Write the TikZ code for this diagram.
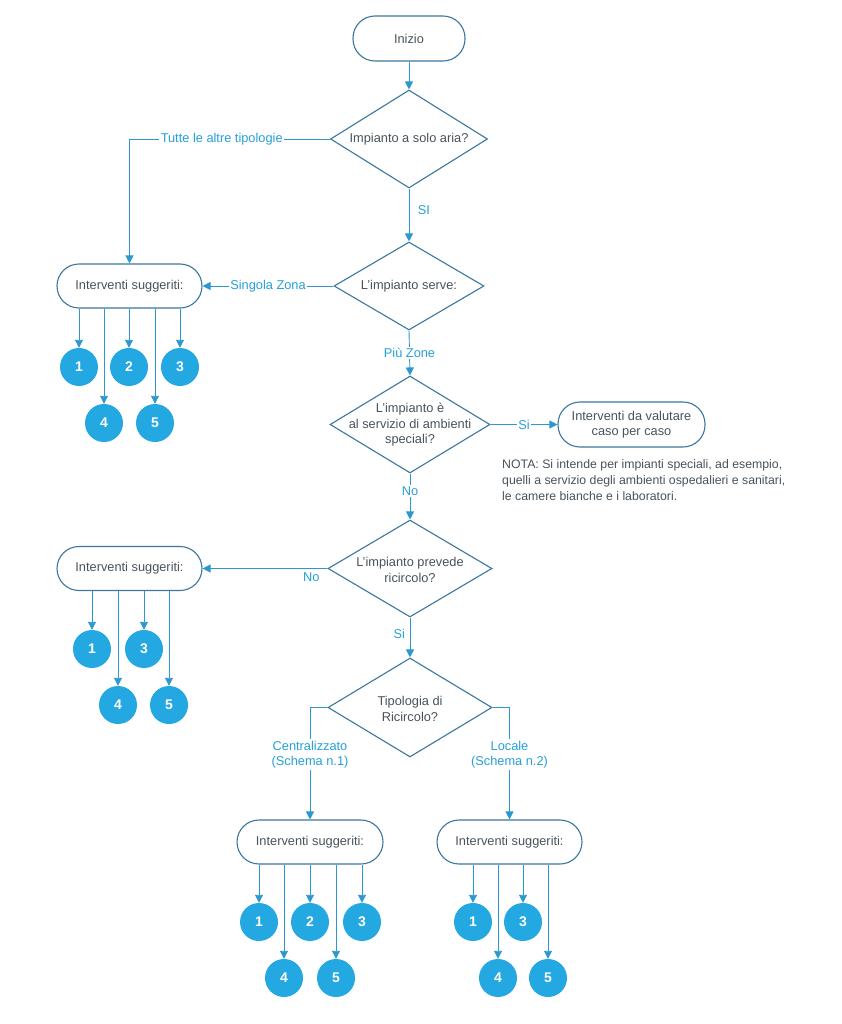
\documentclass[tikz,border=0pt]{standalone}
\usepackage{fontspec}
\setmainfont{Liberation Sans}
\usetikzlibrary{shapes.geometric,arrows.meta}
\definecolor{lineblue}{RGB}{45,152,208}
\definecolor{bordercol}{RGB}{58,118,158}
\definecolor{lblcol}{RGB}{38,160,218}
\definecolor{circfill}{RGB}{35,168,226}
\definecolor{txtcol}{RGB}{72,82,92}
\begin{document}
\begin{tikzpicture}[x=1pt,y=-1pt,
  font=\fontsize{12.8}{15.5}\selectfont,
  pill/.style={draw=bordercol, line width=1.1pt, rounded corners=22pt, text=txtcol, inner sep=0pt, align=center},
  dia/.style={diamond, draw=bordercol, line width=1.1pt, inner sep=0pt},
  txt/.style={text=txtcol, align=center, inner sep=0pt},
  num/.style={circle, fill=circfill, minimum size=38pt, inner sep=0pt, text=white, font=\fontsize{14}{14}\selectfont\bfseries},
  conn/.style={draw=lineblue, line width=0.9pt},
  arr/.style={conn, -{Triangle[width=8pt,length=8pt]}},
  lbl/.style={text=lblcol, inner sep=1.5pt, align=center}
]
\useasboundingbox (0,0) rectangle (842,1024);

% start
\node[pill, minimum width=112pt, minimum height=45pt] (start) at (409,38.5) {Inizio};

% diamonds
\node[dia, minimum width=157pt, minimum height=98pt] (d1) at (409,139) {};
\node[txt] (d1t) at (d1) {Impianto a solo aria?};
\node[dia, minimum width=150pt, minimum height=88pt] (d2) at (409,286) {};
\node[txt] (d2t) at (d2) {L’impianto serve:};
\node[dia, minimum width=160pt, minimum height=97pt] (d3) at (410,424.5) {};
\node[txt] (d3t) at (410,425) {L’impianto è\\al servizio di ambienti\\speciali?};
\node[dia, minimum width=164pt, minimum height=97pt] (d4) at (410,568.5) {};
\node[txt] (d4t) at (410,570) {L’impianto prevede\\ricircolo?};
\node[dia, minimum width=164pt, minimum height=99pt] (d5) at (410,707.5) {};
\node[txt] (d5t) at (410,709) {Tipologia di\\Ricircolo?};

% boxes
\node[pill, minimum width=145pt, minimum height=44pt] (b1) at (129.5,286) {Interventi suggeriti:};
\node[pill, minimum width=145pt, minimum height=44pt] (b2) at (129.5,568.5) {Interventi suggeriti:};
\node[pill, minimum width=146pt, minimum height=44pt] (b3) at (310,842) {Interventi suggeriti:};
\node[pill, minimum width=145pt, minimum height=44pt] (b4) at (509.5,842) {Interventi suggeriti:};
\node[pill, minimum width=147pt, minimum height=45pt] (bv) at (631.5,424.5) {Interventi da valutare\\caso per caso};

% note
\node[txt, anchor=north west, align=left, font=\fontsize{12.3}{16}\selectfont] (nota) at (502,459)
  {NOTA: Si intende per impianti speciali, ad esempio,\\quelli a servizio degli ambienti ospedalieri e sanitari,\\le camere bianche e i laboratori.};

% circles group 1
\node[num] (a1) at (79,367) {1};
\node[num] (a2) at (129,367) {2};
\node[num] (a3) at (180,367) {3};
\node[num] (a4) at (104,423) {4};
\node[num] (a5) at (155,423) {5};
% group 2
\node[num] (e1) at (92,649) {1};
\node[num] (e3) at (144,649) {3};
\node[num] (e4) at (118,705) {4};
\node[num] (e5) at (169,705) {5};
% group 3
\node[num] (f1) at (259,922) {1};
\node[num] (f2) at (310,922) {2};
\node[num] (f3) at (362,922) {3};
\node[num] (f4) at (284,978) {4};
\node[num] (f5) at (336,978) {5};
% group 4
\node[num] (g1) at (473,922) {1};
\node[num] (g3) at (523,922) {3};
\node[num] (g4) at (498,978) {4};
\node[num] (g5) at (548,978) {5};

% main connectors
\draw[arr] (start) -- (d1);
\draw[arr] (d1.west) -- node[lbl, fill=white, pos=0.54] (l1) {Tutte le altre tipologie} (d1.west -| b1.north) -- (b1.north);
\draw[arr] (d1.south) -- node[lbl, right, pos=0.4, xshift=7pt] (l2) {SI} (d2.north);
\draw[arr] (d2.west) -- node[lbl, fill=white] (l3) {Singola Zona} (d2.west -| b1.east);
\draw[arr] (d2.south) -- node[lbl, fill=white, pos=0.5] (l4) {Più Zone} (d3.north);
\draw[arr] (d3.east) -- node[lbl, fill=white] (l5) {Si} (d3.east -| bv.west);
\draw[arr] (d3.south) -- node[lbl, fill=white, pos=0.38] (l6) {No} (d4.north);
\draw[arr] (d4.west) -- node[lbl, below, pos=0.13, yshift=-2pt] (l7) {No} (d4.west -| b2.east);
\draw[arr] (d4.south) -- node[lbl, left, pos=0.4, xshift=-3pt] (l8) {Si} (d5.north);
\draw[arr] (d5.west) -- (d5.west -| b3.north) -- node[lbl, fill=white, pos=0.42] (l9) {Centralizzato\\(Schema n.1)} (b3.north);
\draw[arr] (d5.east) -- (d5.east -| b4.north) -- node[lbl, fill=white, pos=0.42] (l10) {Locale\\(Schema n.2)} (b4.north);

% to circles
\foreach \c in {a1,a2,a3,a4,a5} \draw[arr] (\c |- b1.south) -- (\c);
\foreach \c in {e1,e3,e4,e5} \draw[arr] (\c |- b2.south) -- (\c);
\foreach \c in {f1,f2,f3,f4,f5} \draw[arr] (\c |- b3.south) -- (\c);
\foreach \c in {g1,g3,g4,g5} \draw[arr] (\c |- b4.south) -- (\c);
\end{tikzpicture}
\end{document}
